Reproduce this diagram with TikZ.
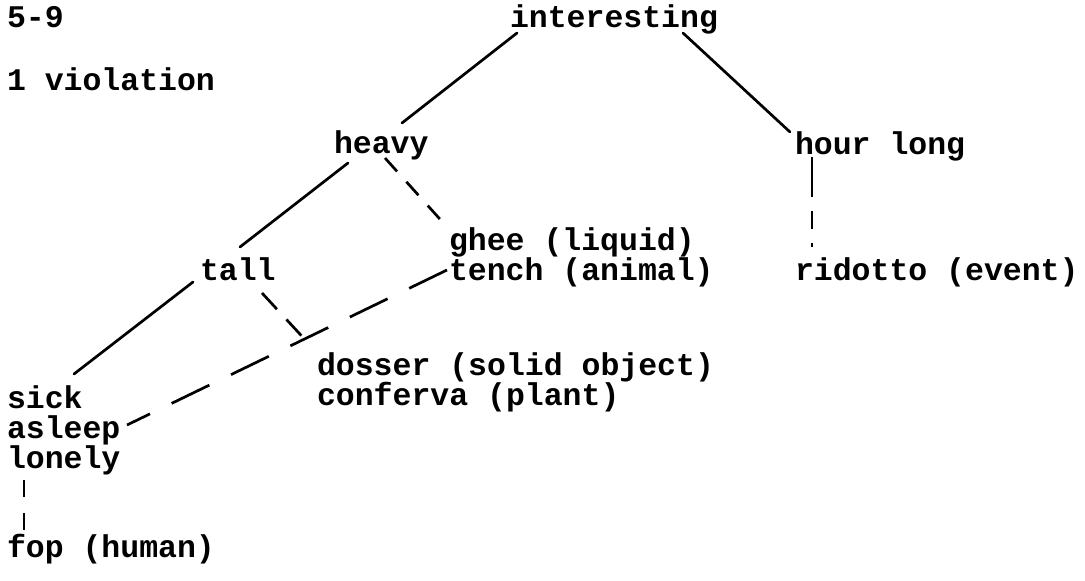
\documentclass[tikz,border=0pt]{standalone}
\usepackage{fontspec}
\setmonofont{Liberation Mono}
\begin{document}
\begin{tikzpicture}[x=1pt,y=-1pt,
  lbl/.style={anchor=base west,inner sep=0pt,outer sep=0pt,font=\ttfamily\bfseries\fontsize{31.5}{30}\selectfont},
  conn/.style={line width=2.7pt,line cap=round},
  dconn/.style={conn,line cap=butt}]
\useasboundingbox (0,0) rectangle (1085,581);
\node[lbl] (title) at (7,27) {5-9};
\node[lbl] (viol) at (7,90) {1 violation};
\node[lbl] (interesting) at (510,27) {interesting};
\node[lbl] (heavy) at (334,153) {heavy};
\node[lbl] (hour) at (795,154) {hour long};
\node[lbl] (ghee) at (449,250) {ghee (liquid)};
\node[lbl] (tench) at (449,280) {tench (animal)};
\node[lbl] (tall) at (200,280) {tall};
\node[lbl] (ridotto) at (795,280) {ridotto (event)};
\node[lbl] (dosser) at (317,375) {dosser (solid object)};
\node[lbl] (conferva) at (317,405) {conferva (plant)};
\node[lbl] (sick) at (7,408) {sick};
\node[lbl] (asleep) at (7,438) {asleep};
\node[lbl] (lonely) at (7,468) {lonely};
\node[lbl] (fop) at (7,557) {fop (human)};
% solid connectors
\draw[conn] ([shift={(7,6)}]interesting.base west) -- ([shift={(68,-30)}]heavy.base west);
\draw[conn] ([shift={(173,6)}]interesting.base west) -- ([shift={(-5,-22)}]hour.base west);
\draw[conn] ([shift={(14,10)}]heavy.base west) -- ([shift={(40,-33)}]tall.base west);
\draw[conn] ([shift={(-7,2)}]tall.base west) -- ([shift={(67,-34)}]sick.base west);
% dashed connectors
\draw[dconn,dash pattern=on 18pt off 14pt] ([shift={(51,5)}]heavy.base west) -- ([shift={(-2,-23)}]ghee.base west);
\draw[dconn,dash pattern=on 22pt off 14pt] ([shift={(62,13)}]tall.base west) -- ([shift={(-7,-30)}]dosser.base west);
\draw[dconn,dash pattern=on 42pt off 24pt] ([shift={(-2,-10)}]tench.base west) -- ([shift={(120,-13)}]asleep.base west);
\draw[dconn,dash pattern=on 17pt off 16pt] ([shift={(17,12)}]lonely.base west) -- ([shift={(17,-24)}]fop.base west);
\draw[dconn,dash pattern=on 40pt off 14pt on 18pt off 14pt] ([shift={(17,3)}]hour.base west) -- ([shift={(17,-33)}]ridotto.base west);
\end{tikzpicture}
\end{document}
